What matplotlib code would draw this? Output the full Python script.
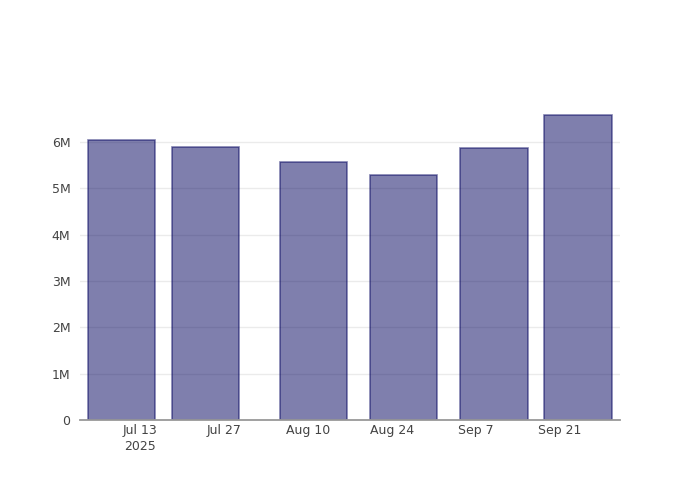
import pandas as pd
import matplotlib.pyplot as plt
from matplotlib.ticker import FuncFormatter

dates = ['2025-07-10', '2025-07-24', '2025-08-11', '2025-08-26', '2025-09-10', '2025-09-24']
values = [6.035e6, 5.90e6, 5.56e6, 5.29e6, 5.87e6, 6.58e6]
tick_dates = ['2025-07-13', '2025-07-27', '2025-08-10', '2025-08-24', '2025-09-07', '2025-09-21']
tick_labels = ['Jul 13\n2025', 'Jul 27', 'Aug 10', 'Aug 24', 'Sep 7', 'Sep 21']
y_ticks = [0, 1e6, 2e6, 3e6, 4e6, 5e6, 6e6]

plt.rcParams['font.family'] = ['DejaVu Sans']

x = pd.to_datetime(dates)

fig = plt.figure(figsize=(7, 5), dpi=100)
ax = fig.add_axes([80 / 700, 80 / 500, 540 / 700, 320 / 500])

ax.bar(x, values, width=11.2, facecolor=(0, 0, 93 / 255, 0.5),
       edgecolor=(0, 0, 93 / 255, 0.5), linewidth=1.2, zorder=2)

ax.set_xlim(pd.Timestamp('2025-07-03 02:00'), pd.Timestamp('2025-10-01'))
ax.set_ylim(0, max(values) * 1.05)

ax.set_xticks(pd.to_datetime(tick_dates))
ax.set_xticklabels(tick_labels)
ax.set_yticks(y_ticks)
ax.yaxis.set_major_formatter(FuncFormatter(lambda v, p: '0' if v == 0 else f'{v / 1e6:.0f}M'))

ax.grid(axis='y', color='#ebebeb', linewidth=1, zorder=0)
ax.set_axisbelow(True)
for side in ['top', 'right', 'left']:
    ax.spines[side].set_visible(False)
ax.spines['bottom'].set_color('#999999')
ax.spines['bottom'].set_linewidth(1.3)
ax.spines['bottom'].set_zorder(3)

ax.tick_params(axis='both', length=0, labelsize=9, labelcolor='#444444')
ax.tick_params(axis='x', pad=3)
ax.tick_params(axis='y', pad=7)
for lbl in ax.get_xticklabels():
    lbl.set_linespacing(1.25)

fig.savefig('out.png', dpi=100)
